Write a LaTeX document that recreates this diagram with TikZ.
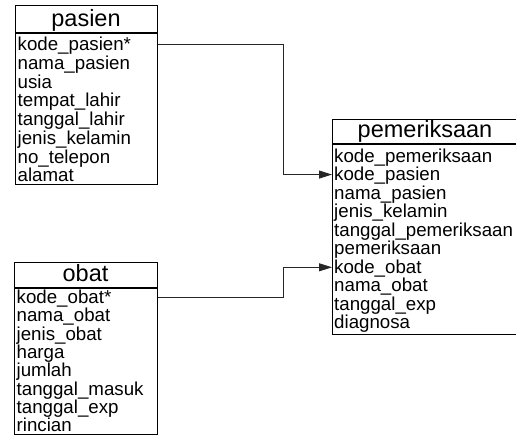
\documentclass[tikz,border=0pt]{standalone}
\usepackage{fontspec}
\setmainfont{Liberation Sans}
\usetikzlibrary{arrows.meta}
\tikzset{
  tbox/.style={draw=black, line width=1.3pt, rectangle, inner sep=0pt, anchor=north west},
  hline/.style={draw=black, line width=1.3pt},
  htext/.style={inner sep=0pt, anchor=base, font=\fontsize{23.5}{23.5}\selectfont},
  row/.style={inner sep=0pt, anchor=base west, text height=14pt, text depth=2pt, font=\fontsize{18.7}{18.7}\selectfont},
  conn/.style={draw=black!85, line width=0.8pt, -{Triangle[length=13pt,width=8pt]}},
}
\begin{document}
\begin{tikzpicture}[x=1pt,y=-1pt]
\useasboundingbox (0,0) rectangle (516,437);
% pasien
\node[tbox, minimum width=142pt, minimum height=179pt] (pasien) at (15,5) {};
\draw[hline] (15,33) -- (157,33);
\node[htext] (pasienh) at (86,26.5) {pasien};
\foreach \t [count=\i] in {kode\_pasien*,nama\_pasien,usia,tempat\_lahir,tanggal\_lahir,jenis\_kelamin,no\_telepon,alamat}
  \node[row] (p\i) at (17.5,{50.5+(\i-1)*18.75}) {\t};
% obat
\node[tbox, minimum width=143pt, minimum height=172pt] (obat) at (14,262) {};
\draw[hline] (14,288) -- (157,288);
\node[htext] (obath) at (85.5,281.5) {obat};
\foreach \t [count=\i] in {kode\_obat*,nama\_obat,jenis\_obat,harga,jumlah,tanggal\_masuk,tanggal\_exp,rincian}
  \node[row] (o\i) at (16.5,{303.5+(\i-1)*18.35}) {\t};
% pemeriksaan
\node[tbox, minimum width=186pt, minimum height=215pt] (pemeriksaan) at (332,119) {};
\draw[hline] (332,144) -- (518,144);
\node[htext] (pemeriksaanh) at (425,137) {pemeriksaan};
\foreach \t [count=\i] in {kode\_pemeriksaan,kode\_pasien,nama\_pasien,jenis\_kelamin,tanggal\_pemeriksaan,pemeriksaan,kode\_obat,nama\_obat,tanggal\_exp,diagnosa}
  \node[row] (q\i) at (334,{162+(\i-1)*18.55}) {\t};
% connectors
\coordinate (mid) at (283,0);
\draw[conn] (pasien.east |- p1) -- (mid |- p1) -- (mid |- q2) -- (pemeriksaan.west |- q2);
\draw[conn] (obat.east |- o1) -- (mid |- o1) -- (mid |- q7) -- (pemeriksaan.west |- q7);
\end{tikzpicture}
\end{document}
